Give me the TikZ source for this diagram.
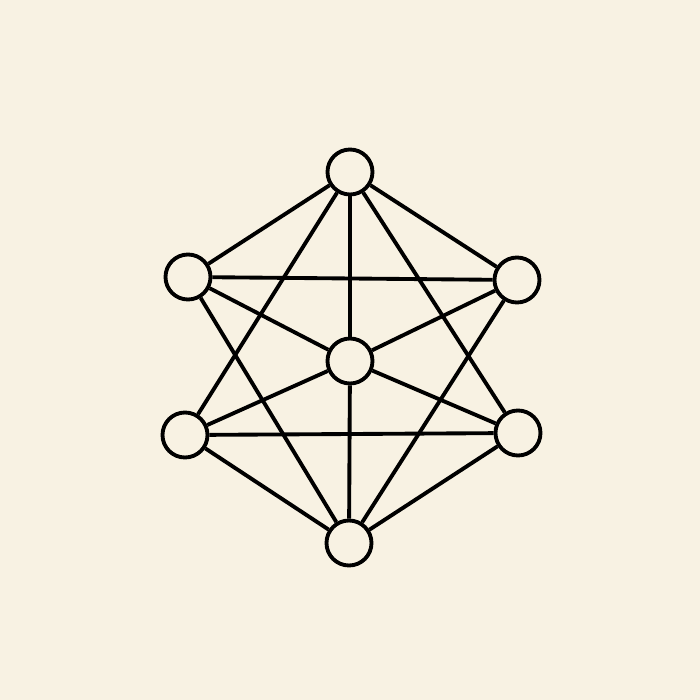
\documentclass[tikz,border=0pt]{standalone}
\usepackage{tikz}
\usetikzlibrary{positioning}
\definecolor{paper}{RGB}{248,242,227}

\begin{document}
\begin{tikzpicture}[line width=1.1pt,
		vertex/.style={circle,draw=black,minimum size=0.45cm,inner sep=0pt}]
		\fill [paper] (0,0) rectangle (7,7);
		\useasboundingbox (0,0) rectangle (7,7);
		
		\node [vertex] (top) at (3.50,5.28) {};
		\node [vertex] (ul) at (1.88,4.23) {};
		\node [vertex] (ur) at (5.17,4.20) {};
		\node [vertex] (mid) at (3.50,3.39) {};
		\node [vertex] (ll) at (1.85,2.65) {};
		\node [vertex] (lr) at (5.18,2.67) {};
		\node [vertex] (bot) at (3.49,1.57) {};
		
		\draw (top) -- (ul);
		\draw (top) -- (ur);
		\draw (top) -- (ll);
		\draw (top) -- (lr);
		\draw (top) -- (mid);
		
		\draw (ul) -- (ur);
		\draw (ul) -- (mid);
		\draw (ul) -- (bot);
		\draw (ur) -- (mid);
		\draw (ur) -- (bot);
		
		\draw (ll) -- (lr);
		\draw (ll) -- (mid);
		\draw (ll) -- (bot);
		\draw (lr) -- (mid);
		\draw (lr) -- (bot);
		
		\draw (mid) -- (bot);
		\end{tikzpicture}
\end{document}
